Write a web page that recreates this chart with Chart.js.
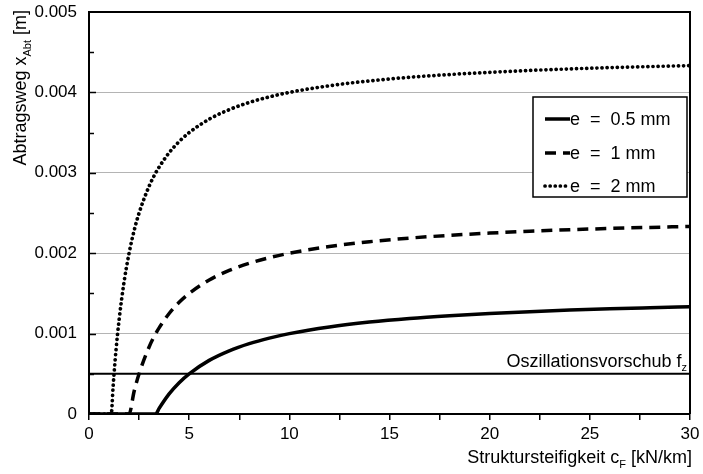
<!DOCTYPE html>
<html>
<head>
<meta charset="utf-8">
<script src="https://cdn.jsdelivr.net/npm/chart.js@4.4.0/dist/chart.umd.min.js"></script>
<style>
  html, body { margin: 0; padding: 0; background: #fff; }
  #wrap { width: 703px; height: 474px; }
</style>
</head>
<body>
<div id="wrap"><canvas id="chart"></canvas></div>
<script>
// stiffness values (x axis, kN/km)
const stiffness = [0, 1, 1.11, 1.2, 1.25, 1.35, 1.5, 1.75, 2, 2.25, 2.5, 3, 3.33, 3.5, 4, 4.5, 5, 6, 7, 8, 9, 10, 12, 14, 16, 18, 20, 22, 24, 26, 28, 30];

// removal path x_Abt [m]
const e05 = [0, 0, 0, 0, 0, 0, 0, 0, 0, 0, 0, 0, 0, 0.00007, 0.00025, 0.00039, 0.0005, 0.000667, 0.000786, 0.000875, 0.000944, 0.001, 0.001083, 0.001143, 0.001188, 0.001222, 0.00125, 0.001273, 0.001292, 0.001308, 0.001321, 0.001333];
const e1 = [0, 0, 0, 0, 0, 0, 0, 0, 0, 0.00028, 0.0005, 0.000833, 0.001, 0.001071, 0.00125, 0.001389, 0.0015, 0.001667, 0.001786, 0.001875, 0.001944, 0.002, 0.002083, 0.002143, 0.002188, 0.002222, 0.00225, 0.002273, 0.002292, 0.002308, 0.002321, 0.002333];
const e2 = [0, 0, 0, 0.00033, 0.0005, 0.0008, 0.001167, 0.001643, 0.002, 0.002278, 0.0025, 0.002833, 0.003, 0.003071, 0.00325, 0.003389, 0.0035, 0.003667, 0.003786, 0.003875, 0.003944, 0.004, 0.004083, 0.004143, 0.004188, 0.004222, 0.00425, 0.004273, 0.004292, 0.004308, 0.004321, 0.004333];

const feedX = [0, 30];
const feedY = [0.0005, 0.0005];

const seriesLabels = ['e  =  0.5 mm', 'e  =  1 mm', 'e  =  2 mm'];
const xTicks = [0, 5, 10, 15, 20, 25, 30];
const yTicks = [0, 0.001, 0.002, 0.003, 0.004, 0.005];

const FONT = '"Liberation Sans", Arial, sans-serif';

function pts(xs, ys) {
  return xs.map((x, i) => ({ x: x, y: ys[i] }));
}

// text with a subscript part: [main, sub, rest]
function subText(ctx, parts, size, x, y, align) {
  const small = Math.round(size * 0.62);
  ctx.font = size + 'px ' + FONT;
  const w0 = ctx.measureText(parts[0]).width;
  ctx.font = small + 'px ' + FONT;
  const w1 = ctx.measureText(parts[1]).width;
  ctx.font = size + 'px ' + FONT;
  const w2 = ctx.measureText(parts[2]).width;
  let sx = x;
  if (align === 'right') sx = x - (w0 + w1 + w2);
  ctx.textAlign = 'left';
  ctx.textBaseline = 'alphabetic';
  ctx.fillText(parts[0], sx, y);
  ctx.font = small + 'px ' + FONT;
  ctx.fillText(parts[1], sx + w0, y + size * 0.25);
  ctx.font = size + 'px ' + FONT;
  ctx.fillText(parts[2], sx + w0 + w1, y);
}

const styles = [
  { dash: [], width: 3.5, cap: 'butt' },
  { dash: [11, 7], width: 3.5, cap: 'butt' },
  { dash: [0.1, 5], width: 3.7, cap: 'round' }
];

const decor = {
  id: 'decor',
  afterDraw(chart) {
    const ctx = chart.ctx;
    const a = chart.chartArea;
    const ys = chart.scales.y;
    ctx.save();
    ctx.fillStyle = '#000';
    ctx.strokeStyle = '#000';

    // frame top / right
    ctx.lineWidth = 2;
    ctx.beginPath();
    ctx.moveTo(a.left, a.top);
    ctx.lineTo(a.right, a.top);
    ctx.lineTo(a.right, a.bottom);
    ctx.stroke();

    // inner ticks on y axis
    ctx.lineWidth = 1.5;
    for (let i = 1; i < 10; i++) {
      const py = Math.round(ys.getPixelForValue(i * 0.0005)) + 0.5;
      ctx.beginPath();
      ctx.moveTo(a.left, py);
      ctx.lineTo(a.left + (i % 2 === 0 ? 7 : 5), py);
      ctx.stroke();
    }

    // feed label
    subText(ctx, ['Oszillationsvorschub f', 'z', ''], 18, a.right - 3, ys.getPixelForValue(0.0005) - 7, 'right');

    // axis titles
    subText(ctx, ['Struktursteifigkeit c', 'F', ' [kN/km]'], 18, a.right + 2, 463, 'right');
    ctx.save();
    ctx.translate(26, 10);
    ctx.rotate(-Math.PI / 2);
    subText(ctx, ['Abtragsweg x', 'Abt', ' [m]'], 18, 0, 0, 'right');
    ctx.restore();

    // legend box
    const bx = 533, by = 97, bw = 154, bh = 100;
    ctx.lineWidth = 1.5;
    ctx.fillStyle = '#fff';
    ctx.fillRect(bx, by, bw, bh);
    ctx.strokeRect(bx, by, bw, bh);
    ctx.fillStyle = '#000';
    const rows = [119, 153, 186];
    for (let i = 0; i < 3; i++) {
      const s = styles[i];
      ctx.lineWidth = s.width;
      ctx.lineCap = s.cap;
      ctx.setLineDash(s.dash);
      ctx.beginPath();
      ctx.moveTo(545, rows[i]);
      ctx.lineTo(570, rows[i]);
      ctx.stroke();
      ctx.setLineDash([]);
      ctx.lineCap = 'butt';
      ctx.font = '18px ' + FONT;
      ctx.textAlign = 'left';
      ctx.textBaseline = 'middle';
      ctx.fillText(seriesLabels[i], 570, rows[i] + 1);
    }
    ctx.restore();
  }
};

const datasets = [e05, e1, e2].map((arr, i) => ({
  label: seriesLabels[i],
  data: pts(stiffness, arr),
  borderColor: '#000',
  borderWidth: styles[i].width,
  borderDash: styles[i].dash,
  borderCapStyle: styles[i].cap,
  cubicInterpolationMode: 'monotone',
  pointRadius: 0,
  fill: false
}));
datasets.push({
  label: 'fz',
  data: pts(feedX, feedY),
  borderColor: '#000',
  borderWidth: 2,
  pointRadius: 0,
  fill: false
});

new Chart(document.getElementById('chart'), {
  type: 'line',
  data: { datasets: datasets },
  options: {
    responsive: true,
    maintainAspectRatio: false,
    animation: false,
    layout: { padding: { top: 12, right: 13, left: 0, bottom: 0 } },
    plugins: { legend: { display: false }, tooltip: { enabled: false } },
    scales: {
      x: {
        type: 'linear',
        min: 0, max: 30,
        afterFit(scale) {
          scale.height = 60;
          scale.paddingLeft = 0;
          scale.paddingRight = 0;
        },
        afterBuildTicks(scale) {
          const t = [];
          for (let v = 0; v <= 30; v += 2.5) t.push({ value: v });
          scale.ticks = t;
        },
        ticks: {
          font: { family: FONT, size: 17 },
          color: '#000',
          padding: 4,
          maxRotation: 0,
          autoSkip: false,
          callback: (v) => xTicks.includes(v) ? String(v) : ''
        },
        grid: { drawOnChartArea: false, drawTicks: true, tickLength: 6, color: '#000', lineWidth: 1.5 },
        border: { display: true, color: '#000', width: 2 }
      },
      y: {
        type: 'linear',
        min: 0, max: 0.005,
        afterFit(scale) {
          scale.width = 89;
          scale.paddingTop = 0;
          scale.paddingBottom = 0;
        },
        afterBuildTicks(scale) {
          const t = [];
          for (let i = 0; i <= 10; i++) t.push({ value: i * 0.0005 });
          scale.ticks = t;
        },
        ticks: {
          font: { family: FONT, size: 17 },
          color: '#000',
          padding: 12,
          autoSkip: false,
          callback: (v) => {
            const k = yTicks.findIndex(t => Math.abs(t - v) < 1e-9);
            return k >= 0 ? (k === 0 ? '0' : yTicks[k].toFixed(3)) : '';
          }
        },
        grid: {
          drawTicks: false,
          color: (c) => {
            const v = c.tick ? c.tick.value : 0;
            const major = Math.abs(v * 1000 - Math.round(v * 1000)) < 1e-6;
            return (major && v > 0.0001 && v < 0.0049) ? '#b4b4b4' : 'rgba(0,0,0,0)';
          },
          lineWidth: 1
        },
        border: { display: true, color: '#000', width: 2 }
      }
    }
  },
  plugins: [decor]
});
</script>
</body>
</html>
